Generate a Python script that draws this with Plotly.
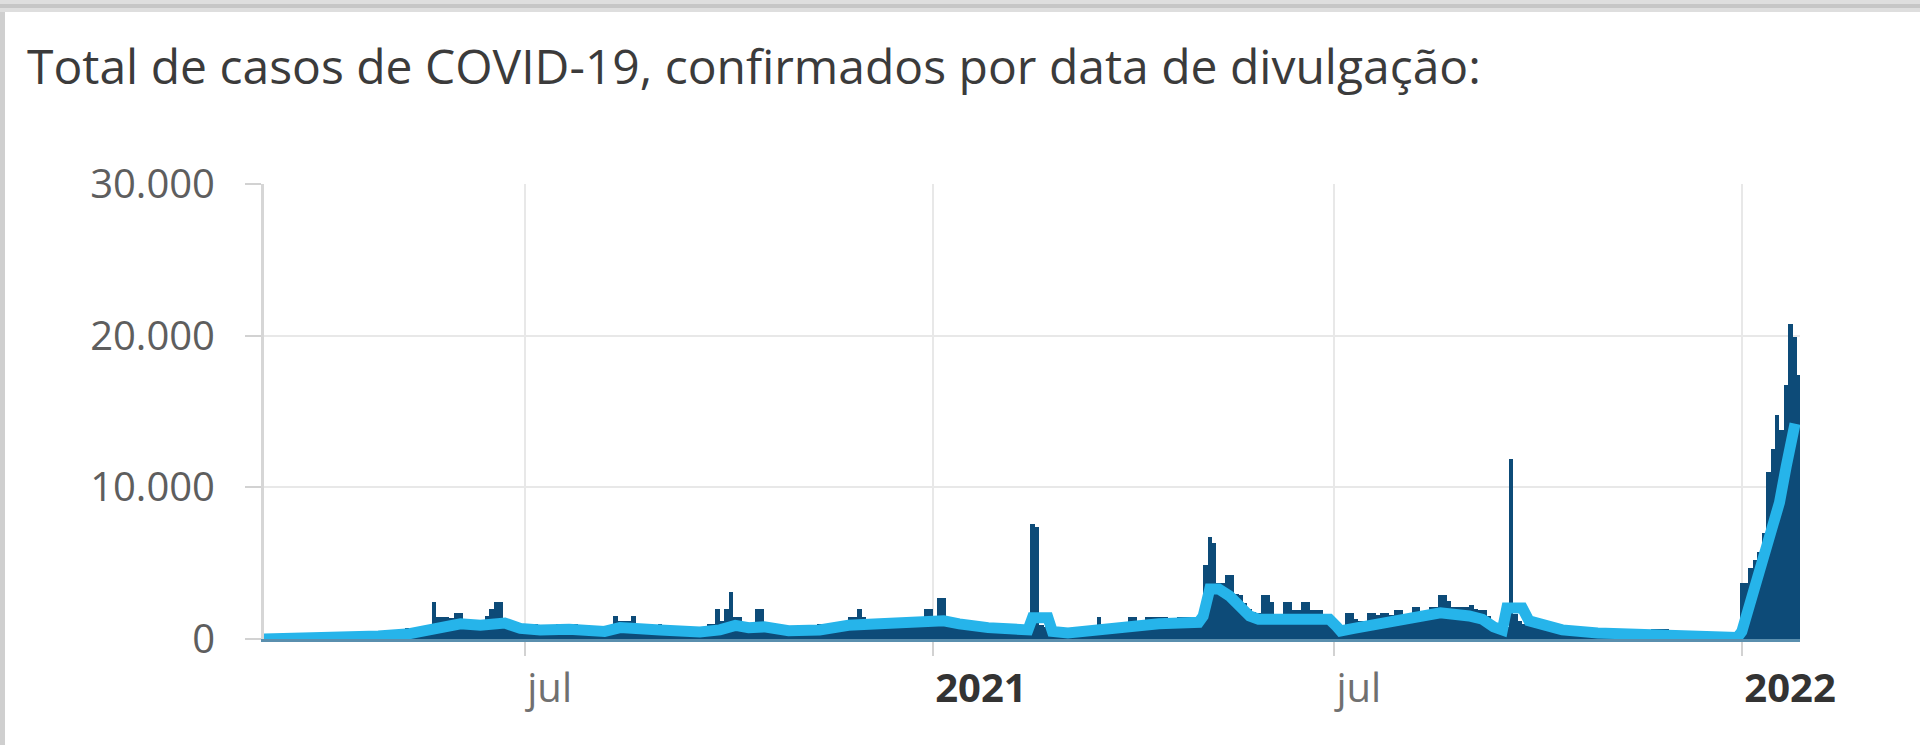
import pandas as pd
import plotly.graph_objects as go

# ---------------- data ----------------
title_text = "Total de casos de COVID-19, confirmados por data de divulgação:"

# daily confirmed cases in 2-day bins starting 2020-03-05
bar_start = "2020-03-05"
bar_values = [
    0, 0, 0, 0, 5, 5, 10, 10, 20, 20,
    30, 30, 40, 50, 60, 70, 80, 90, 100, 120,
    130, 150, 160, 180, 200, 220, 530, 300, 250, 280,
    300, 320, 745, 400, 400, 450, 500, 600, 2440, 1450,
    1450, 1450, 1400, 1710, 1710, 1200, 1100, 1100, 1050, 1100,
    1500, 1980, 2440, 2440, 1050, 1050, 1000, 900, 725, 725,
    725, 990, 725, 700, 700, 700, 990, 990, 600, 990,
    990, 745, 745, 600, 500, 460, 460, 500, 600, 1515,
    1210, 1210, 1210, 1515, 900, 800, 750, 700, 700, 990,
    700, 600, 600, 550, 460, 460, 460, 460, 460, 500,
    990, 990, 1980, 1200, 2000, 3120, 1470, 1470, 900, 800,
    800, 1980, 1980, 700, 600, 600, 550, 550, 500, 550,
    600, 600, 760, 760, 650, 990, 990, 990, 990, 800,
    800, 900, 1470, 1470, 1980, 1470, 1100, 1100, 1150, 1210,
    1210, 1210, 1000, 1210, 1210, 1000, 1210, 1210, 1470, 1980,
    1980, 1500, 2680, 2680, 1470, 1100, 1100, 1100, 1050, 1000,
    990, 990, 850, 800, 800, 800, 750, 750, 700, 700,
    745, 650, 600, 7600, 7400, 900, 800, 700, 450, 400,
    400, 450, 400, 450, 500, 500, 745, 745, 1470, 800,
    800, 990, 990, 800, 800, 1470, 1470, 1120, 1120, 1470,
    1470, 1470, 1470, 1470, 1200, 1200, 1470, 1470, 1470, 1470,
    1300, 1400, 4870, 6740, 6300, 3690, 3690, 4220, 4220, 3000,
    2900, 2400, 2000, 1800, 1700, 2900, 2900, 2440, 1580, 1580,
    2440, 2440, 1900, 1900, 2440, 2440, 1910, 1910, 1910, 1580,
    1580, 1100, 700, 600, 1710, 1710, 1320, 1200, 1200, 1710,
    1710, 1580, 1710, 1710, 1580, 1910, 1910, 1580, 1580, 2130,
    2130, 1800, 1800, 2130, 2130, 2900, 2900, 2480, 2130, 2130,
    2130, 2130, 2230, 2000, 1910, 1910, 1500, 900, 600, 500,
    800, 11840, 1650, 1200, 1000, 900, 1050, 1050, 1050, 1050,
    900, 530, 530, 530, 400, 300, 300, 700, 700, 300,
    300, 300, 280, 280, 260, 260, 250, 530, 530, 250,
    250, 250, 250, 660, 660, 660, 660, 200, 150, 150,
    120, 120, 100, 100, 100, 80, 80, 80, 80, 80,
    80, 100, 100, 3670, 3670, 4680, 5200, 5750, 7000, 11020,
    12500, 14760, 13770, 16740, 20800, 19920, 17400,
]

# moving average (light blue line)
line_dates = [
    "2020-03-05", "2020-04-04", "2020-04-26", "2020-05-10", "2020-05-19",
    "2020-05-24", "2020-06-02", "2020-06-11", "2020-06-17", "2020-06-22",
    "2020-06-29", "2020-07-08", "2020-07-21", "2020-07-30", "2020-08-06",
    "2020-08-13", "2020-08-22", "2020-08-31", "2020-09-18", "2020-09-27",
    "2020-10-04", "2020-10-10", "2020-10-17", "2020-10-28", "2020-11-11",
    "2020-11-24", "2020-12-08", "2020-12-26", "2021-01-06", "2021-01-13",
    "2021-01-26", "2021-02-13", "2021-02-15", "2021-02-22", "2021-02-24",
    "2021-03-03", "2021-03-12", "2021-03-26", "2021-04-13", "2021-05-01",
    "2021-05-03", "2021-05-06", "2021-05-10", "2021-05-15", "2021-05-19",
    "2021-05-24", "2021-05-28", "2021-06-29", "2021-07-02", "2021-07-04",
    "2021-07-10", "2021-07-22", "2021-08-07", "2021-08-18", "2021-08-31",
    "2021-09-06", "2021-09-11", "2021-09-15", "2021-09-17", "2021-09-24",
    "2021-09-27", "2021-10-06", "2021-10-12", "2021-10-28", "2021-11-20",
    "2021-12-03", "2021-12-12", "2021-12-30", "2022-01-01", "2022-01-05",
    "2022-01-09", "2022-01-14", "2022-01-18", "2022-01-21", "2022-01-24",
    "2022-01-25",
]
line_values = [
    0, 60, 200, 350, 600,
    900, 1000, 900, 1050, 1050,
    700, 600, 650, 600, 500,
    750, 750, 600, 460, 600,
    900, 750, 800, 550, 600,
    900, 1000, 1050, 1200, 1000,
    750, 600, 1400, 1400, 500,
    400, 550, 850, 1000, 1100,
    1500, 3300, 3300, 2830, 2170,
    1515, 1300, 1300, 860, 530,
    700, 990, 1300, 1730, 1515,
    1300, 800, 600, 2050, 2050,
    1200, 900, 600, 400, 350,
    300, 150, 100, 500, 2570,
    4500, 6980, 9000, 11350, 13570,
    14200,
]

y_tickvals = [0, 10000, 20000, 30000]
y_ticktext = ["0", "10.000", "20.000", "30.000"]
x_tickvals = ["2020-07-01", "2021-01-01", "2021-07-01", "2022-01-01"]
x_ticktext = [
    "jul",
    "<b><span style='color:#333333'>2021</span></b>",
    "jul",
    "<b><span style='color:#333333'>2022</span></b>",
]

# ---------------- figure ----------------
W, H = 1920, 745
ML, MR, MT, MB = 264, 120, 184, 106
PW, PH = W - ML - MR, H - MT - MB

bar_dates = pd.date_range(bar_start, periods=len(bar_values), freq="2D") + pd.Timedelta(days=1)
DAY_MS = 86400000

fig = go.Figure()
fig.add_trace(go.Bar(
    x=bar_dates, y=bar_values, width=2 * DAY_MS,
    marker=dict(color="#0d4b78", line=dict(width=0)),
    hoverinfo="skip",
))
fig.add_trace(go.Scatter(
    x=line_dates, y=line_values, mode="lines",
    line=dict(color="#26b4ea", width=11),
    hoverinfo="skip",
))


def px_x(px):
    return (px - ML) / PW


def px_y(py):
    return (H - MB - py) / PH


shapes = [
    # top gray frame band
    dict(type="rect", xref="paper", yref="paper", x0=px_x(0), x1=px_x(W),
         y0=px_y(12), y1=px_y(0), fillcolor="#dedede", line=dict(width=0), layer="above"),
    dict(type="line", xref="paper", yref="paper", x0=px_x(0), x1=px_x(W),
         y0=px_y(6), y1=px_y(6), line=dict(color="#c6c6c6", width=4), layer="above"),
    # left gray frame line
    dict(type="rect", xref="paper", yref="paper", x0=px_x(0), x1=px_x(5),
         y0=px_y(H), y1=px_y(12), fillcolor="#cfcfcf", line=dict(width=0), layer="above"),
]

fig.update_layout(
    width=W, height=H,
    margin=dict(l=ML, r=MR, t=MT, b=MB, pad=0),
    paper_bgcolor="white", plot_bgcolor="white",
    showlegend=False, bargap=0,
    shapes=shapes,
    title=dict(
        text=title_text,
        font=dict(family="Open Sans", size=48, color="#3b3b3b"),
        xref="container", yref="container",
        x=27 / W, xanchor="left",
        y=1 - 67 / H, yanchor="middle",
    ),
    xaxis=dict(
        type="date",
        range=["2020-03-05 09:00", "2022-01-27 06:00"],
        tickmode="array", tickvals=x_tickvals, ticktext=x_ticktext,
        ticks="outside", ticklen=14, tickwidth=2, tickcolor="#d2d2d2",
        ticklabelposition="outside right",
        ticklabelstandoff=12,
        tickfont=dict(family="Open Sans", size=40, color="#707070"),
        showgrid=True, gridcolor="#e8e8e8", gridwidth=2,
        showline=True, linecolor="#5a8fae", linewidth=3,
        zeroline=False,
    ),
    yaxis=dict(
        range=[0, 30000],
        tickmode="array", tickvals=y_tickvals, ticktext=y_ticktext,
        ticks="outside", ticklen=16, tickwidth=2, tickcolor="#d2d2d2",
        ticklabelstandoff=22,
        tickfont=dict(family="Open Sans", size=40, color="#5e5e5e"),
        showgrid=True, gridcolor="#e8e8e8", gridwidth=2,
        showline=True, linecolor="#d6d6d6", linewidth=3,
        zeroline=False,
    ),
)

fig.write_html(
    "out.html",
    config={"displayModeBar": False},
    post_script="document.body.style.margin='0';document.body.style.overflow='hidden';",
)
